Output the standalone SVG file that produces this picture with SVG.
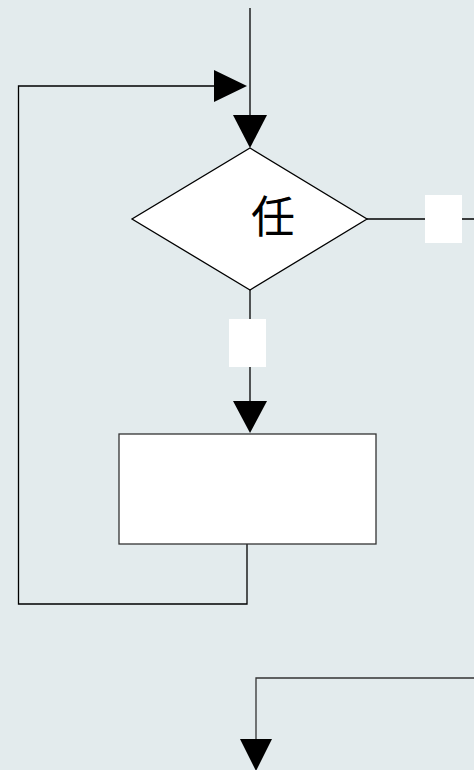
<svg xmlns="http://www.w3.org/2000/svg" width="474" height="770" viewBox="0 0 474 770">
<style>
.ln{fill:none;stroke:#000;stroke-width:1.3}
.ln2{fill:none;stroke:#333;stroke-width:1.3}
.ah{fill:#000;stroke:none}
.lbl{fill:#fff;stroke:none}
.shape{fill:#fff;stroke:#000;stroke-width:1.3}
.txt{font-family:"Noto Sans CJK SC","Noto Sans CJK JP",sans-serif;font-size:44px;fill:#000}
</style>
<rect x="0" y="0" width="474" height="770" fill="#e3ebed"/>
<g id="connectors">
<line class="ln" x1="250" y1="8" x2="250" y2="118"/>
<polygon class="ah" points="233,115 267,115 250,148"/>
<polyline class="ln" points="247,544 247,604 18.5,604 18.5,86 216,86"/>
<polygon class="ah" points="214,70 214,102 247,86"/>
<line class="ln" x1="367" y1="219" x2="474" y2="219"/>
<rect class="lbl" x="425" y="195" width="37" height="48"/>
<line class="ln" x1="250" y1="290" x2="250" y2="404"/>
<rect class="lbl" x="229" y="319" width="37" height="48"/>
<polygon class="ah" points="233,401 267,401 250,433"/>
<polyline class="ln2" points="474,678 256,678 256,742"/>
<polygon class="ah" points="240,739 272,739 256,771"/>
</g>
<g id="decision">
<polygon class="shape" points="250,148 367,219 250,290 132,219"/>
<text class="txt" x="273" y="233" text-anchor="middle">任</text>
</g>
<g id="process">
<rect x="119" y="434" width="257" height="110" fill="#fff" stroke="#333" stroke-width="1.3"/>
</g>
</svg>
